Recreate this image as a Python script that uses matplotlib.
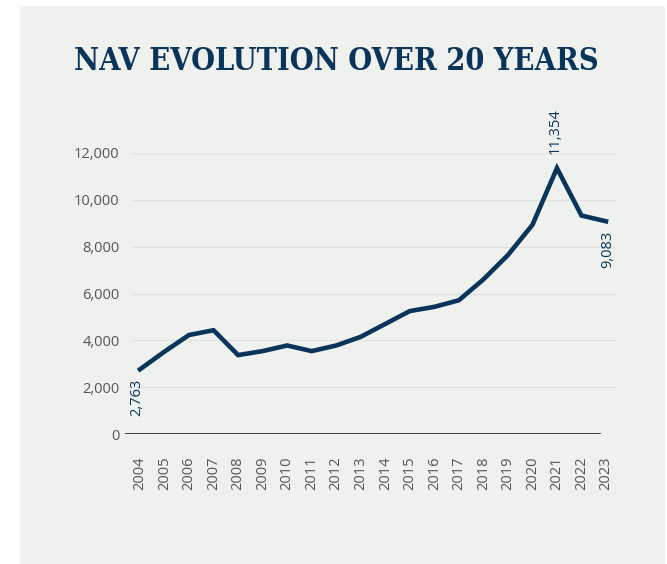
import numpy as np
import matplotlib.pyplot as plt
from matplotlib.patches import Rectangle

# data
years = list(range(2004, 2024))
nav = [2763, 3520, 4230, 4430, 3370, 3540, 3780, 3540, 3780, 4150,
       4700, 5250, 5430, 5710, 6600, 7640, 8930, 11354, 9330, 9083]
labelled = {2004: "2,763", 2021: "11,354", 2023: "9,083"}
yticks = [0, 2000, 4000, 6000, 8000, 10000, 12000]

navy = "#0a3459"
grey_txt = "#555555"
panel = "#eff1ee"

W, H = 667, 564
fig = plt.figure(figsize=(W / 100, H / 100), dpi=100)
fig.patch.set_facecolor("white")

# grey panel behind everything
fig.patches.append(Rectangle((20 / W, 0), (665 - 20) / W, (564 - 6) / H,
                             transform=fig.transFigure, facecolor=panel,
                             edgecolor="none", zorder=-10))

fig.text(336 / W, 1 - 61 / H, "NAV EVOLUTION OVER 20 YEARS",
         family="DejaVu Serif", fontsize=22, color=navy, weight="bold",
         ha="center", va="center", stretch="condensed")

# axes placed in pixels
left, right, bottom, top = 125, 617, 434, 153
ax = fig.add_axes([left / W, 1 - bottom / H, (right - left) / W, (bottom - top) / H])
ax.set_facecolor("none")

px_per_year = 24.5
ax.set_xlim(2004 - (140 - left) / px_per_year, 2023 + (right - 606) / px_per_year)
ax.set_ylim(0, 12000)

for v in yticks[1:]:
    ax.axhline(v, xmin=0.012, xmax=1, color="#e2e4e1", lw=1, zorder=1)
ax.axhline(0, xmin=0, xmax=(600 - left) / (right - left), color="#333333", lw=1.3, zorder=2)

ax.plot(years, nav, color=navy, lw=3.3, solid_joinstyle="miter", zorder=3)

for i, y in enumerate(years):
    if y in labelled:
        if y == 2021:
            ax.annotate(labelled[y], (y, nav[i]), xytext=(-1, 10), textcoords="offset points",
                        rotation=90, ha="center", va="bottom", fontsize=10.5,
                        family="Open Sans", color=navy)
        else:
            ax.annotate(labelled[y], (y, nav[i]), xytext=(-2 if y == 2004 else 1, -7),
                        textcoords="offset points", rotation=90, ha="center", va="top",
                        fontsize=10.5, family="Open Sans", color=navy)

ax.set_yticks(yticks)
ax.set_yticklabels([f"{v:,}" for v in yticks])
ax.set_xticks(years)
ax.set_xticklabels([str(y) for y in years], rotation=90)
ax.tick_params(axis="y", length=0, pad=4, labelsize=10.5, labelcolor=grey_txt)
ax.tick_params(axis="x", length=0, pad=16, labelsize=10.5, labelcolor=grey_txt)
for lab in ax.get_xticklabels() + ax.get_yticklabels():
    lab.set_family("Open Sans")
for s in ax.spines.values():
    s.set_visible(False)

fig.savefig("out.png", dpi=100, facecolor=fig.get_facecolor())
